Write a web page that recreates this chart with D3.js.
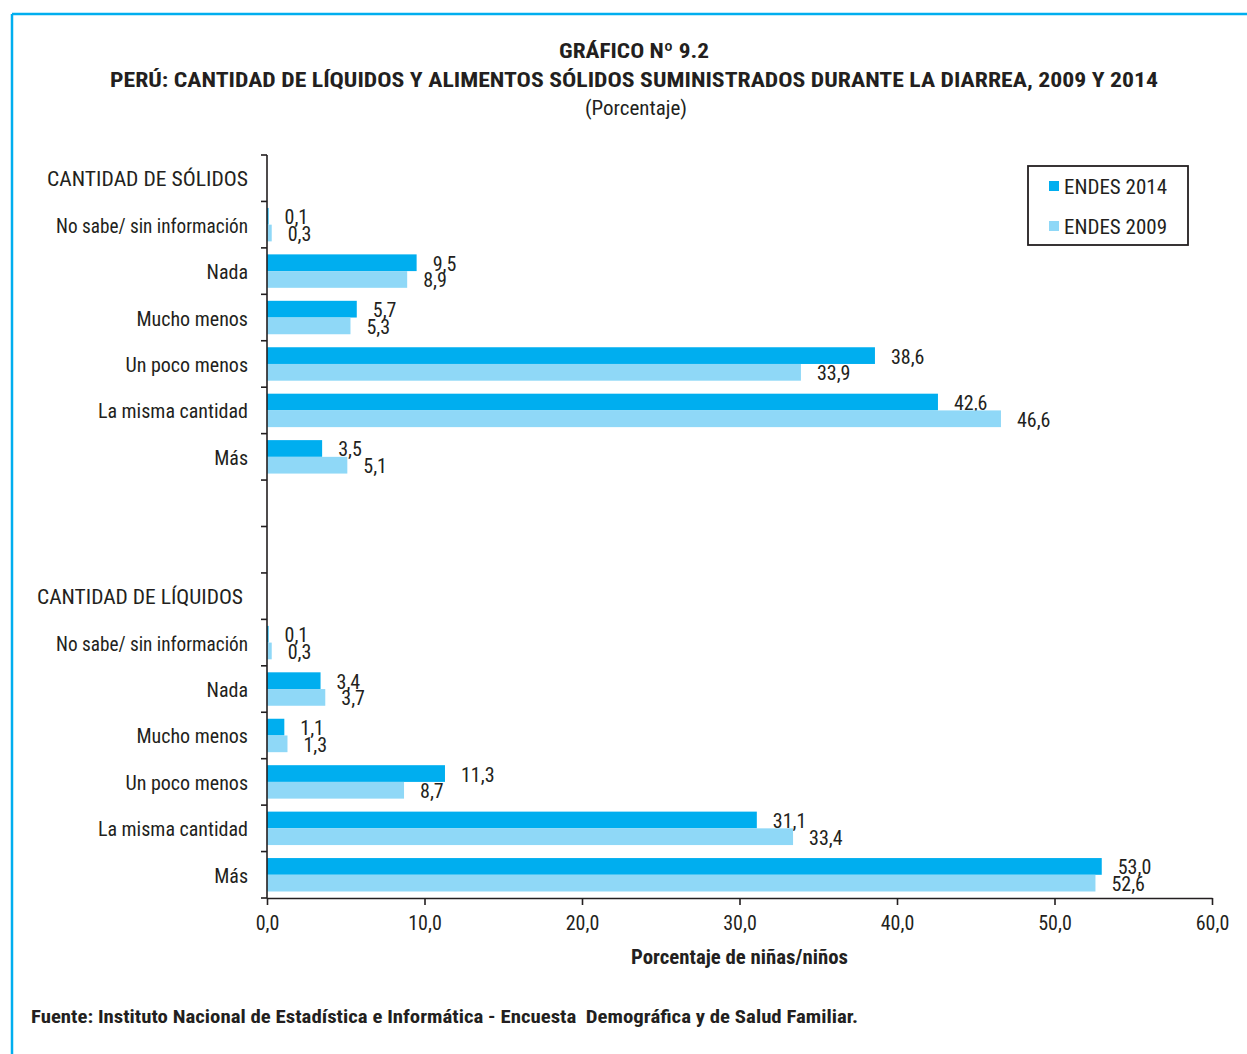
<!DOCTYPE html>
<html>
<head>
<meta charset="utf-8">
<script src="https://cdn.jsdelivr.net/npm/d3@7"></script>
<style>
  html, body { margin: 0; padding: 0; background: #fff; }
  svg text { font-family: "Liberation Sans Narrow", "Arial Narrow", "Roboto Condensed", "Liberation Sans", Arial, sans-serif; fill: #231f20; }
</style>
</head>
<body>
<svg id="chart" width="1247" height="1054"></svg>
<script>
// ---- data ----
const categories = [
  "CANTIDAD DE SÓLIDOS", "No sabe/ sin información", "Nada", "Mucho menos", "Un poco menos", "La misma cantidad", "Más",
  "", "",
  "CANTIDAD DE LÍQUIDOS", "No sabe/ sin información", "Nada", "Mucho menos", "Un poco menos", "La misma cantidad", "Más"
];
const values2014 = [null, 0.1, 9.5, 5.7, 38.6, 42.6, 3.5, null, null, null, 0.1, 3.4, 1.1, 11.3, 31.1, 53.0];
const values2009 = [null, 0.3, 8.9, 5.3, 33.9, 46.6, 5.1, null, null, null, 0.3, 3.7, 1.3, 8.7, 33.4, 52.6];
const seriesNames = ["ENDES 2014", "ENDES 2009"];
const xTicks = [0, 10, 20, 30, 40, 50, 60];

const colors = ["#00aeef", "#8fd8f7"];
const ink = "#231f20";

const svg = d3.select("#chart");

// blue frame
svg.append("line").attr("x1", 12).attr("x2", 1247).attr("y1", 14).attr("y2", 14)
  .attr("stroke", "#00aeef").attr("stroke-width", 2.5);
svg.append("line").attr("x1", 12).attr("x2", 12).attr("y1", 14).attr("y2", 1054)
  .attr("stroke", "#00aeef").attr("stroke-width", 2.5);

// titles
svg.append("text").attr("x", 559).attr("y", 58)
  .attr("font-size", 21).attr("font-weight", "bold")
  .attr("textLength", 150).attr("lengthAdjust", "spacingAndGlyphs").text("GRÁFICO Nº 9.2");
svg.append("text").attr("x", 110).attr("y", 87)
  .attr("font-size", 21).attr("font-weight", "bold")
  .attr("textLength", 1048).attr("lengthAdjust", "spacingAndGlyphs")
  .text("PERÚ: CANTIDAD DE LÍQUIDOS Y ALIMENTOS SÓLIDOS SUMINISTRADOS DURANTE LA DIARREA, 2009 Y 2014");
svg.append("text").attr("x", 636).attr("y", 115).attr("text-anchor", "middle")
  .attr("font-size", 21).text("(Porcentaje)");

// scales
const x0 = 267, x1 = 1212, yTop = 155, yBot = 898;
const x = d3.scaleLinear().domain([0, 60]).range([x0, x1]);
const keys = categories.map((c, i) => i);
const y = d3.scaleBand().domain(keys).range([yTop, yBot]).paddingInner(0.28).paddingOuter(0.14);
const step = y.step();
const sub = d3.scaleBand().domain([0, 1]).range([0, y.bandwidth()]);

// bars
const rows = keys.map(i => ({ i, vals: [values2014[i], values2009[i]] }));
const g = svg.append("g");
rows.forEach(r => {
  r.vals.forEach((v, s) => {
    if (v == null) return;
    const by = y(r.i) + sub(s);
    g.append("rect")
      .attr("x", x(0)).attr("y", by)
      .attr("width", x(v) - x(0)).attr("height", sub.bandwidth())
      .attr("fill", colors[s]);
    g.append("text")
      .attr("x", x(v) + 16).attr("y", by + sub.bandwidth() / 2 + 1)
      .attr("dy", "0.35em").attr("font-size", 20)
      .text(d3.format(".1f")(v).replace(".", ","));
  });
});

// y axis
svg.append("line").attr("x1", x0).attr("x2", x0).attr("y1", yTop).attr("y2", yBot)
  .attr("stroke", ink).attr("stroke-width", 1.6);
for (let k = 0; k <= categories.length; k++) {
  const ty = yTop + k * step;
  svg.append("line").attr("x1", x0 - 6).attr("x2", x0).attr("y1", ty).attr("y2", ty)
    .attr("stroke", ink).attr("stroke-width", 1.6);
}
const headerSpan = { 0: [47, 248], 9: [37, 243], 1: [56, 248], 10: [56, 248] };
keys.forEach(i => {
  if (!categories[i]) return;
  const t = svg.append("text").attr("y", yTop + i * step + step / 2 + 1)
    .attr("dy", "0.35em").attr("font-size", 20)
    .text(categories[i]);
  if (headerSpan[i]) {
    t.attr("x", headerSpan[i][0]).attr("textLength", headerSpan[i][1] - headerSpan[i][0])
      .attr("lengthAdjust", "spacingAndGlyphs");
  } else {
    t.attr("x", 248).attr("text-anchor", "end");
  }
});

// x axis
const xAxis = d3.axisBottom(x).tickValues(xTicks).tickSize(7).tickSizeOuter(0)
  .tickFormat(d => d3.format(".1f")(d).replace(".", ","));
const ax = svg.append("g").attr("transform", `translate(0,${yBot})`).call(xAxis);
ax.attr("font-family", null);
ax.select(".domain").attr("stroke", ink).attr("stroke-width", 1.6);
ax.selectAll(".tick line").attr("stroke", ink).attr("stroke-width", 1.6);
ax.selectAll(".tick text").attr("font-size", 20).attr("dy", "1.1em").attr("fill", ink);

svg.append("text").attr("x", 631).attr("y", 964)
  .attr("font-size", 20).attr("font-weight", "bold")
  .attr("textLength", 217).attr("lengthAdjust", "spacingAndGlyphs")
  .text("Porcentaje de niñas/niños");

// source
svg.append("text").attr("x", 31).attr("y", 1023)
  .attr("font-size", 19).attr("font-weight", "bold")
  .attr("xml:space", "preserve").style("white-space", "pre")
  .attr("textLength", 827).attr("lengthAdjust", "spacingAndGlyphs")
  .text("Fuente: Instituto Nacional de Estadística e Informática - Encuesta  Demográfica y de Salud Familiar.");

// legend
const lg = svg.append("g");
lg.append("rect").attr("x", 1028).attr("y", 166).attr("width", 160).attr("height", 79)
  .attr("fill", "#fff").attr("stroke", ink).attr("stroke-width", 1.8);
seriesNames.forEach((name, s) => {
  const cy = 186 + s * 40;
  lg.append("rect").attr("x", 1049).attr("y", cy - 5).attr("width", 10).attr("height", 10).attr("fill", colors[s]);
  lg.append("text").attr("x", 1064).attr("y", cy + 1).attr("dy", "0.35em").attr("font-size", 20)
    .attr("textLength", 103).attr("lengthAdjust", "spacingAndGlyphs").text(name);
});
</script>
</body>
</html>
